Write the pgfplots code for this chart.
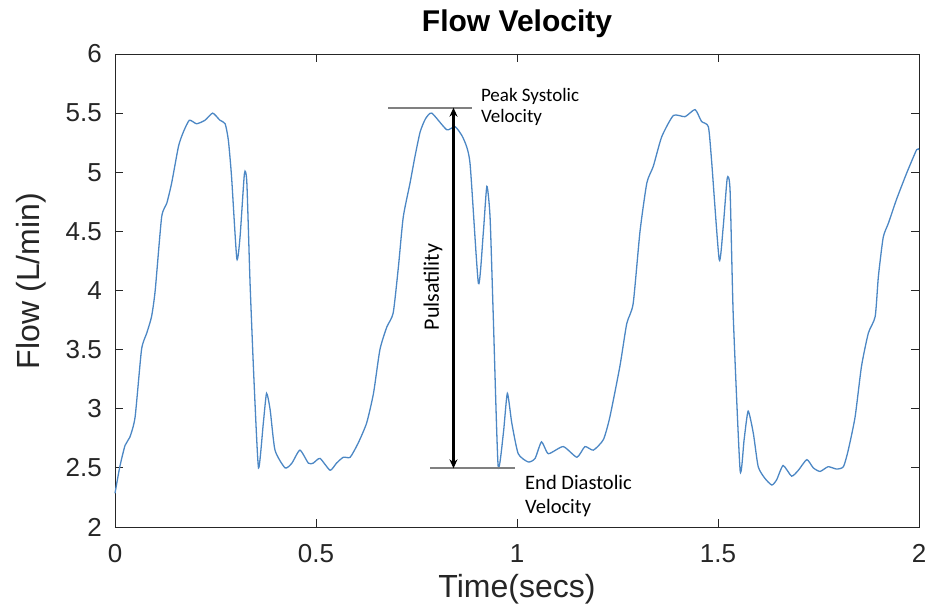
\documentclass[border=0pt]{standalone}
\usepackage{pgfplots}
\pgfplotsset{compat=1.18}
\usepackage{fontspec}
\setmainfont{Liberation Sans}
\newfontfamily\calib{Carlito}
\usetikzlibrary{arrows.meta}
\definecolor{flowblue}{rgb}{0.30,0.53,0.77}
\definecolor{axgray}{rgb}{0.15,0.15,0.15}
\begin{document}
\begin{tikzpicture}
\useasboundingbox (-115pt,-78pt) rectangle (822pt,527pt);
\begin{axis}[
  at={(0,0)}, anchor=south west,
  scale only axis, width=804pt, height=473pt,
  xmin=0, xmax=2, ymin=2, ymax=6,
  xtick={0,0.5,1,1.5,2}, ytick={2,2.5,3,3.5,4,4.5,5,5.5,6},
  xticklabels={0,0.5,1,1.5,2},
  yticklabels={2,2.5,3,3.5,4,4.5,5,5.5,6},
  /pgf/number format/assume math mode=true,
  tick align=inside, major tick length=8pt,
  axis line style={axgray, line width=0.9pt},
  tick style={axgray, line width=0.9pt},
  ticklabel style={font=\fontsize{26}{30}\selectfont, text=axgray},
  yticklabel style={anchor=east, inner sep=0pt, xshift=-13pt},
  xticklabel style={anchor=north, inner sep=0pt, yshift=-17pt},
  xlabel={Time(secs)}, ylabel={Flow (L/min)},
  label style={font=\fontsize{32}{36}\selectfont, text=axgray},
  xlabel style={at={(0.5,-0.148)}, anchor=base},
  ylabel style={at={(-0.0945,0.52)}, anchor=base, rotate=0},
  title={Flow Velocity},
  title style={font=\bfseries\fontsize{30}{34}\selectfont, at={(0.5,1)}, anchor=base, yshift=16pt},
  clip=false,
]
\addplot[flowblue, line width=1.3pt, smooth, tension=0.35] coordinates {
(0,2.285) (0.012,2.51) (0.025,2.69) (0.037,2.76) (0.05,2.93) (0.066,3.50)
(0.079,3.64) (0.091,3.78) (0.10,4.00) (0.116,4.62) (0.129,4.74) (0.141,4.91)
(0.158,5.22) (0.170,5.34) (0.185,5.44) (0.203,5.41) (0.224,5.44) (0.243,5.50)
(0.261,5.44) (0.274,5.41) (0.282,5.27) (0.290,4.96) (0.303,4.27) (0.311,4.45)
(0.322,4.99) (0.328,4.91) (0.336,4.06) (0.346,3.22) (0.357,2.50) (0.369,2.88)
(0.377,3.13) (0.386,2.99) (0.398,2.65) (0.423,2.50) (0.44,2.54) (0.46,2.65)
(0.481,2.54) (0.493,2.54) (0.51,2.58) (0.535,2.48) (0.551,2.54) (0.568,2.59)
(0.585,2.59) (0.605,2.71) (0.626,2.88) (0.643,3.13) (0.659,3.50) (0.676,3.69)
(0.692,3.81) (0.705,4.20) (0.717,4.62) (0.734,4.91) (0.746,5.13) (0.759,5.34)
(0.772,5.45) (0.788,5.50) (0.825,5.36) (0.846,5.385) (0.866,5.29) (0.883,5.08)
(0.904,4.06) (0.916,4.48) (0.925,4.88) (0.933,4.62) (0.941,3.78) (0.953,2.52)
(0.966,2.79) (0.976,3.13) (0.987,2.88) (1.003,2.62) (1.028,2.55) (1.045,2.58)
(1.061,2.72) (1.078,2.62) (1.115,2.68) (1.149,2.59) (1.169,2.68) (1.19,2.65)
(1.215,2.74) (1.231,2.93) (1.256,3.36) (1.273,3.72) (1.289,3.89) (1.306,4.50)
(1.323,4.91) (1.339,5.05) (1.36,5.30) (1.389,5.48) (1.418,5.47) (1.443,5.53)
(1.459,5.43) (1.476,5.385) (1.484,5.10) (1.503,4.26) (1.513,4.54) (1.523,4.95)
(1.53,4.85) (1.538,3.78) (1.555,2.48) (1.565,2.74) (1.575,2.98) (1.588,2.79)
(1.60,2.51) (1.617,2.41) (1.634,2.355) (1.646,2.40) (1.662,2.52) (1.683,2.43)
(1.70,2.48) (1.721,2.57) (1.737,2.50) (1.754,2.47) (1.774,2.51) (1.795,2.49)
(1.812,2.51) (1.824,2.65) (1.841,2.93) (1.857,3.36) (1.874,3.64) (1.891,3.78)
(1.899,4.12) (1.911,4.45) (1.924,4.57) (1.944,4.77) (1.969,4.99) (1.994,5.19)
(2.0,5.19)
};
\draw[gray, line width=2pt] (axis cs:0.68,5.546) -- (axis cs:0.887,5.546);
\draw[gray, line width=2pt] (axis cs:0.784,2.496) -- (axis cs:0.995,2.496);
\draw[black, line width=2.5pt, {Stealth[length=9pt,width=8pt]}-{Stealth[length=9pt,width=8pt]}] (axis cs:0.842,5.546) -- (axis cs:0.842,2.496);
\node[anchor=north west, align=left, inner sep=0pt, font=\calib\fontsize{19}{21}\selectfont] at (axis cs:0.910,5.71) {Peak Systolic\\Velocity};
\node[anchor=north west, align=left, inner sep=0pt, font=\calib\fontsize{20.5}{24}\selectfont] at (axis cs:1.020,2.44) {End Diastolic\\Velocity};
\node[rotate=90, inner sep=0pt, font=\calib\fontsize{22}{26}\selectfont] at (axis cs:0.791,4.03) {Pulsatility};
\end{axis}
\end{tikzpicture}
\end{document}
